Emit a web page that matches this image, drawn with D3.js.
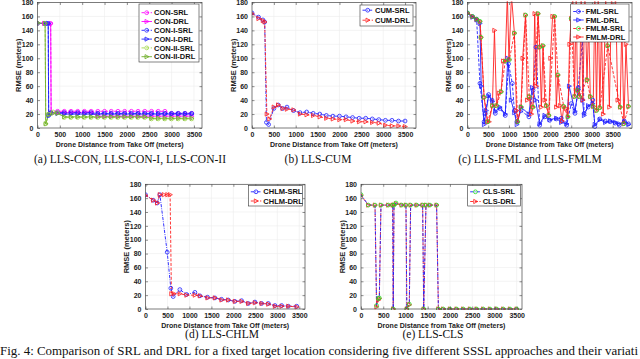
<!DOCTYPE html>
<html>
<head>
<meta charset="utf-8">
<script src="https://cdnjs.cloudflare.com/ajax/libs/d3/7.8.5/d3.min.js"></script>
<style>
  body { margin: 0; background: #fff; }
  svg { display: block; font-family: "Liberation Sans", Arial, sans-serif; }
</style>
</head>
<body>
<svg id="fig" width="640" height="359"></svg>
<script>
const xTicks = [0, 500, 1000, 1500, 2000, 2500, 3000, 3500];
const yTicks = [0, 20, 40, 60, 80, 100, 120, 140, 160, 180];

// (a) LLS-CON family
const conSRL = [[0,150],[150,150],[295,150],[305,22],[450,24],[600,24],[750,24],[900,24],[1050,24],[1200,24],[1350,24],[1500,24],[1650,24],[1800,24],[1950,24],[2100,24],[2250,24],[2400,24],[2550,24],[2700,24],[2850,24],[3000,21],[3150,21],[3300,21],[3450,21]];
const conDRL = [[0,150],[150,150],[295,150],[305,21],[450,22],[600,22],[750,22],[900,22],[1050,22],[1200,22],[1350,17],[1500,17],[1650,17],[1800,17],[1950,17],[2100,17],[2250,17],[2400,17],[2550,17],[2700,17],[2850,17],[3000,17],[3150,17],[3300,17],[3450,17]];
const conISRL = [[0,150],[190,150],[240,150],[250,18],[300,22],[450,22],[600,22],[750,22],[900,22],[1050,22],[1200,22],[1350,21],[1500,21],[1650,21],[1800,21],[1950,21],[2100,21],[2250,21],[2400,21],[2550,21],[2700,21],[2850,21],[3000,21],[3150,21],[3300,21],[3450,21]];
const conIDRL = [[0,150],[190,150],[240,150],[250,18],[300,21],[450,21],[600,20],[750,20],[900,20],[1050,20],[1200,20],[1350,20],[1500,20],[1650,20],[1800,20],[1950,20],[2100,20],[2250,20],[2400,20],[2550,20],[2700,20],[2850,20],[3000,20],[3150,20],[3300,20],[3450,20]];
const conIISRL = [[0,150],[170,150],[185,6],[250,20],[350,23],[450,22],[600,15],[750,15],[900,15],[1050,15],[1200,15],[1350,15],[1500,15],[1650,15],[1800,15],[1950,15],[2100,15],[2250,15],[2400,15],[2550,13],[2700,13],[2850,13],[3000,13],[3150,13],[3300,13],[3450,13]];
const conIIDRL = [[0,151],[170,150],[185,6],[250,19],[350,21],[450,21],[600,16],[750,16],[900,16],[1050,16],[1200,16],[1350,16],[1500,16],[1650,16],[1800,16],[1950,16],[2100,16],[2250,16],[2400,16],[2550,14],[2700,14],[2850,14],[3000,14],[3150,14],[3300,14],[3450,14]];

// (b) LLS-CUM
const cumSRL = [[0,165],[150,159],[250,155],[290,152],[330,8],[380,5],[500,28],[600,33],[700,28],[800,30],[950,25],[1100,22],[1250,23],[1400,21],[1550,20],[1700,18],[1850,17],[2000,17],[2150,16],[2300,15],[2450,14],[2600,14],[2750,13],[2900,12],[3050,11],[3200,11],[3350,10],[3500,10]];
const cumDRL = [[0,164],[150,157],[250,154],[290,152],[340,20],[400,13],[500,30],[600,33],[700,28],[800,27],[950,26],[1100,20],[1250,19],[1400,18],[1550,16],[1700,14],[1850,13],[2000,12],[2150,12],[2300,10],[2450,9],[2600,9],[2750,8],[2900,7],[3050,4],[3200,3],[3350,3],[3500,2]];

// (c) LLS-FML and LLS-FMLM
const fmlSRL = [[0,165],[120,160],[220,156],[300,64],[400,9],[430,21],[510,48],[590,40],[670,21],[780,28],[910,18],[990,92],[1080,64],[1130,25],[1190,9],[1290,25],[1480,16],[1580,54],[1650,116],[1740,4],[1860,16],[1980,11],[2140,13],[2260,14],[2390,4],[2500,35],[2590,21],[2670,58],[2770,126],[2810,21],[2910,30],[3020,40],[3070,2],[3190,13],[3320,10],[3440,9],[3560,7],[3660,4],[3780,10],[3880,6]];
const fmlDRL = [[0,164],[120,159],[220,155],[300,150],[330,60],[400,5],[450,25],[510,46],[600,38],[670,24],[780,30],[910,20],[970,100],[1050,40],[1130,22],[1190,5],[1290,30],[1480,20],[1560,58],[1640,40],[1740,6],[1860,18],[1980,12],[2140,14],[2260,8],[2390,6],[2450,60],[2590,24],[2670,55],[2770,40],[2810,18],[2910,32],[3020,35],[3070,5],[3190,12],[3320,8],[3440,10],[3560,8],[3660,6],[3780,9],[3880,5]];
const fmlmSRL = [[0,165],[120,160],[220,156],[300,153],[325,130],[400,44],[490,9],[600,32],[700,32],[810,52],[910,96],[1010,98],[1130,136],[1210,9],[1290,30],[1400,162],[1490,45],[1580,30],[1700,164],[1740,116],[1820,118],[1900,32],[1960,18],[2100,160],[2180,76],[2320,31],[2420,16],[2500,157],[2580,45],[2650,54],[2700,45],[2880,69],[2960,45],[3030,31],[3110,25],[3190,29],[3380,118],[3680,30],[3770,6],[3880,31]];
const fmlmDRL = [[0,165],[120,160],[220,156],[300,153],[325,130],[400,44],[480,9],[520,9],[600,32],[650,140],[700,32],[760,50],[810,52],[860,96],[910,96],[960,190],[1000,98],[1060,190],[1130,136],[1180,25],[1210,9],[1290,30],[1330,100],[1400,162],[1440,40],[1490,45],[1540,20],[1580,30],[1620,164],[1660,60],[1700,164],[1740,116],[1780,30],[1820,118],[1860,40],[1900,32],[1960,18],[2000,100],[2050,160],[2100,160],[2140,30],[2180,76],[2230,32],[2280,10],[2320,31],[2380,28],[2420,16],[2460,120],[2500,157],[2540,190],[2580,45],[2620,190],[2650,54],[2700,45],[2740,190],[2780,40],[2830,190],[2880,69],[2920,150],[2960,45],[3030,31],[3070,190],[3110,25],[3150,190],[3190,29],[3230,150],[3270,20],[3330,190],[3380,118],[3420,30],[3470,190],[3520,150],[3570,190],[3620,40],[3680,30],[3720,150],[3770,6],[3820,120],[3880,31]];

// (d) LLS-CHLM
const chlmSRL = [[0,165],[175,157],[266,153],[327,165],[494,82],[576,30],[630,18],[782,28],[934,21],[1124,24],[1238,19],[1412,17],[1579,16],[1731,14],[1883,13],[2035,11],[2187,12],[2339,8],[2491,10],[2643,8],[2795,8],[2947,5],[3099,5],[3251,4],[3441,4]];
const chlmDRL = [[0,164],[175,157],[266,153],[327,165],[420,165],[500,165],[560,165],[590,22],[650,22],[782,22],[934,20],[1124,20],[1238,19],[1412,16],[1579,16],[1731,13],[1883,13],[2035,11],[2187,11],[2339,8],[2491,9],[2643,8],[2795,7],[2947,4],[3099,4],[3251,4],[3441,3]];

// (e) LLS-CLS
const clsSRL = [[0,165],[165,150],[315,150],[350,5],[390,15],[412,16],[449,150],[614,150],[712,150],[725,0],[742,150],[787,153],[914,150],[1011,150],[1030,0],[1086,7],[1116,150],[1251,150],[1386,150],[1410,0],[1461,150],[1551,150],[1700,150],[1740,0],[1850,0],[2000,0],[2150,0],[2300,0],[2450,0],[2600,0],[2750,0],[2900,0],[3050,0],[3200,0],[3350,0],[3500,0]];
const clsDRL = [[0,164],[165,150],[315,150],[350,3],[390,13],[412,15],[449,150],[614,150],[712,150],[725,0],[742,150],[787,152],[914,150],[1011,150],[1030,0],[1086,6],[1116,150],[1251,150],[1386,150],[1410,0],[1461,150],[1551,150],[1700,150],[1740,0],[1850,0],[2000,0],[2150,0],[2300,0],[2450,0],[2600,0],[2750,0],[2900,0],[3050,0],[3200,0],[3350,0],[3500,0]];

const BLUE = "#1f1fff", RED = "#ff2020", MAG = "#ff00ff", GREEN = "#22dd22",
      LGREEN = "#a2d84a", DGREEN = "#6fae2a";
const DASH = { solid: null, dash: "3,1.6", dashdot: "3.2,1.2,0.9,1.2" };

const panels = [
  { id: "a", box: [37.5, 2.5, 202, 128], xMax: 3680,
    legendBox: [139, 4, 199, 62], rows: [12.7, 21.5, 30.3, 39.1, 47.9, 56.7],
    caption: "(a) LLS-CON, LLS-CON-I, LLS-CON-II", capX: 130, capY: 163,
    series: [
      { name: "CON-SRL", data: conSRL, color: MAG, dash: "dash", marker: "o" },
      { name: "CON-DRL", data: conDRL, color: MAG, dash: "solid", marker: ">" },
      { name: "CON-I-SRL", data: conISRL, color: BLUE, dash: "dash", marker: "o" },
      { name: "CON-I-DRL", data: conIDRL, color: BLUE, dash: "solid", marker: ">" },
      { name: "CON-II-SRL", data: conIISRL, color: LGREEN, dash: "dash", marker: "o" },
      { name: "CON-II-DRL", data: conIIDRL, color: DGREEN, dash: "solid", marker: ">" }
    ] },
  { id: "b", box: [252, 2.5, 416, 128], xMax: 3750,
    legendBox: [360, 5, 413, 26], rows: [10.2, 20.2],
    caption: "(b) LLS-CUM", capX: 318, capY: 163,
    series: [
      { name: "CUM-SRL", data: cumSRL, color: BLUE, dash: "dashdot", marker: "o" },
      { name: "CUM-DRL", data: cumDRL, color: RED, dash: "dash", marker: ">" }
    ] },
  { id: "c", box: [467.5, 2.5, 632, 128], xMax: 3965,
    legendBox: [570.7, 4, 629, 42], rows: [11.5, 20, 28.5, 37],
    caption: "(c) LLS-FML and LLS-FMLM", capX: 530, capY: 163,
    order: [1, 0, 3, 2],
    series: [
      { name: "FML-SRL", data: fmlSRL, color: BLUE, dash: "dash", marker: "o" },
      { name: "FML-DRL", data: fmlDRL, color: BLUE, dash: "solid", marker: ">" },
      { name: "FMLM-SRL", data: fmlmSRL, color: RED, dash: "dash", marker: "o", mcolor: GREEN },
      { name: "FMLM-DRL", data: fmlmDRL, color: RED, dash: "solid", marker: ">" }
    ] },
  { id: "d", box: [145.5, 184.3, 305, 309], xMax: 3630,
    legendBox: [248.3, 185.5, 302.5, 206], rows: [191.8, 201],
    caption: "(d) LLS-CHLM", capX: 222, capY: 338,
    series: [
      { name: "CHLM-SRL", data: chlmSRL, color: BLUE, dash: "dashdot", marker: "o" },
      { name: "CHLM-DRL", data: chlmDRL, color: RED, dash: "dash", marker: ">" }
    ] },
  { id: "e", box: [361, 184.3, 522, 309], xMax: 3620,
    legendBox: [467.7, 185.5, 520.5, 206], rows: [191.8, 201.5],
    caption: "(e) LLS-CLS", capX: 433, capY: 338,
    order: [1, 0],
    series: [
      { name: "CLS-SRL", data: clsSRL, color: BLUE, dash: "dashdot", marker: "o", mcolor: GREEN },
      { name: "CLS-DRL", data: clsDRL, color: RED, dash: "dash", marker: ">" }
    ] }
];

const svg = d3.select("#fig");

function drawMarker(sel, type, color) {
  if (type === "o") {
    sel.append("circle").attr("r", 1.9).attr("fill", "none")
      .attr("stroke", color).attr("stroke-width", 0.8);
  } else {
    sel.append("path").attr("d", "M-1.7,-2.1L2.3,0L-1.7,2.1Z").attr("fill", "none")
      .attr("stroke", color).attr("stroke-width", 0.8);
  }
}

function drawPanel(p) {
  const [x0, y0, x1, y1] = p.box;
  const x = d3.scaleLinear().domain([0, p.xMax]).range([x0, x1]);
  const y = d3.scaleLinear().domain([0, 180]).range([y1, y0]);
  const g = svg.append("g").attr("class", "panel-" + p.id);

  // faint grid
  g.append("g").selectAll("line").data(yTicks.slice(1, -1)).join("line")
    .attr("x1", x0).attr("x2", x1).attr("y1", d => y(d)).attr("y2", d => y(d))
    .attr("stroke", "#ececec").attr("stroke-width", 0.6);
  g.append("g").selectAll("line").data(xTicks.slice(1)).join("line")
    .attr("y1", y0).attr("y2", y1).attr("x1", d => x(d)).attr("x2", d => x(d))
    .attr("stroke", "#ececec").attr("stroke-width", 0.6);

  const cid = "clip-" + p.id;
  svg.append("clipPath").attr("id", cid).append("rect")
    .attr("x", x0).attr("y", y0 - 1).attr("width", x1 - x0).attr("height", y1 - y0 + 2);
  const plot = g.append("g").attr("clip-path", `url(#${cid})`);
  const line = d3.line().x(d => x(d[0])).y(d => y(d[1]));
  const order = p.order || p.series.map((s, i) => i);

  order.forEach(i => {
    const s = p.series[i];
    plot.append("path").attr("d", line(s.data)).attr("fill", "none")
      .attr("stroke", s.color).attr("stroke-width", 0.9)
      .attr("stroke-dasharray", DASH[s.dash]);
  });
  order.forEach(i => {
    const s = p.series[i];
    const m = plot.append("g").selectAll("g").data(s.data).join("g")
      .attr("transform", d => `translate(${x(d[0])},${y(d[1])})`);
    drawMarker(m, s.marker, s.mcolor || s.color);
  });

  // axes, MATLAB style with inward ticks and a full box
  const fontAxis = g2 => {
    g2.attr("font-family", null).attr("font-size", null);
    g2.select(".domain").remove();
    g2.selectAll(".tick line").attr("stroke", "#444").attr("stroke-width", 0.6);
    g2.selectAll("text").attr("font-size", 7).attr("font-weight", "bold").attr("fill", "#222");
  };
  g.append("g").attr("transform", `translate(0,${y1})`)
    .call(d3.axisBottom(x).tickValues(xTicks).tickFormat(d3.format("d")).tickSize(-2.5).tickPadding(4.5))
    .call(fontAxis);
  g.append("g").attr("transform", `translate(${x0},0)`)
    .call(d3.axisLeft(y).tickValues(yTicks).tickSize(-2.5).tickPadding(4)).call(fontAxis);
  g.append("g").attr("transform", `translate(0,${y0})`)
    .call(d3.axisTop(x).tickValues(xTicks).tickSize(-2.5).tickFormat("")).call(fontAxis);
  g.append("g").attr("transform", `translate(${x1},0)`)
    .call(d3.axisRight(y).tickValues(yTicks).tickSize(-2.5).tickFormat("")).call(fontAxis);
  g.append("rect").attr("x", x0).attr("y", y0).attr("width", x1 - x0).attr("height", y1 - y0)
    .attr("fill", "none").attr("stroke", "#444").attr("stroke-width", 0.7);

  g.append("text").attr("x", (x0 + x1) / 2).attr("y", y1 + 19)
    .attr("text-anchor", "middle").attr("font-size", 7).attr("font-weight", "bold")
    .attr("fill", "#222").text("Drone Distance from Take Off (meters)");
  g.append("text")
    .attr("transform", `translate(${x0 - 16.5},${(y0 + y1) / 2}) rotate(-90)`)
    .attr("text-anchor", "middle").attr("font-size", 7.5).attr("font-weight", "bold")
    .attr("fill", "#222").text("RMSE (meters)");

  // legend
  const [lx0, ly0, lx1, ly1] = p.legendBox;
  g.append("rect").attr("x", lx0).attr("y", ly0).attr("width", lx1 - lx0).attr("height", ly1 - ly0)
    .attr("fill", "#fff").attr("stroke", "#333").attr("stroke-width", 0.6);
  p.series.forEach((s, i) => {
    const ry = p.rows[i];
    g.append("line").attr("x1", lx0 + 2.5).attr("x2", lx0 + 13).attr("y1", ry).attr("y2", ry)
      .attr("stroke", s.color).attr("stroke-width", 0.9).attr("stroke-dasharray", DASH[s.dash]);
    drawMarker(g.append("g").attr("transform", `translate(${lx0 + 7.7},${ry})`), s.marker, s.mcolor || s.color);
    g.append("text").attr("x", lx0 + 15).attr("y", ry).attr("dy", "0.35em")
      .attr("font-size", 7.5).attr("font-weight", "bold").attr("fill", "#111").text(s.name);
  });

  svg.append("text").attr("x", p.capX).attr("y", p.capY).attr("text-anchor", "middle")
    .attr("font-family", "'Liberation Serif', 'Times New Roman', serif").attr("font-size", 11.5)
    .attr("fill", "#111").text(p.caption);
}

panels.forEach(drawPanel);

// figure caption, cut at the right edge as in the source page
svg.append("text").attr("x", 0).attr("y", 355)
  .attr("font-family", "'Liberation Serif', 'Times New Roman', serif").attr("font-size", 12.6)
  .attr("fill", "#111").attr("textLength", 638).attr("lengthAdjust", "spacingAndGlyphs")
  .text("Fig. 4: Comparison of SRL and DRL for a fixed target location considering five different SSSL approaches and their variati");
</script>
</body>
</html>
